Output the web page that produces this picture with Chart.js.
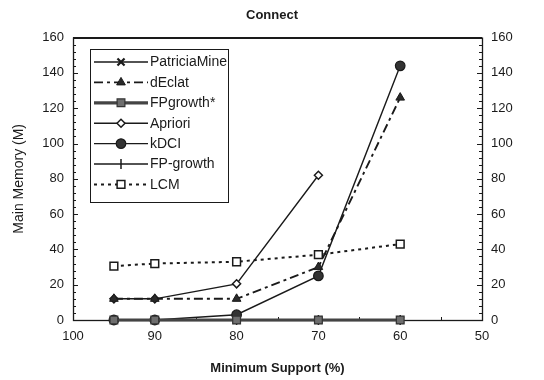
<!DOCTYPE html>
<html>
<head>
<meta charset="utf-8">
<script src="https://cdn.jsdelivr.net/npm/chart.js@4.4.1/dist/chart.umd.min.js"></script>
<style>
  html, body { margin: 0; padding: 0; background: #fff; }
  #wrap { width: 544px; height: 380px; }
</style>
</head>
<body>
<div id="wrap"><canvas id="c" width="544" height="380"></canvas></div>
<script>
// Minimum support levels (%) and memory usage (MB) per algorithm
const supports = [95, 90, 80, 70, 60];
const patriciaMine = [0, 0, 0, 0, 0];
const dEclat = [12, 12, 12, 30, 126];
const fpGrowthStar = [0, 0, 0, 0, 0];
const apriori = [12, 12, 20.5, 82, null];
const kDCI = [0, 0, 3, 25, 144];
const fpGrowth = [0, 0, 0, 0, 0];
const lcm = [30.5, 32, 33, 37, 43];

const xTicks = [100, 90, 80, 70, 60, 50];
const yTicks = [0, 20, 40, 60, 80, 100, 120, 140, 160];

const FONT = "'Liberation Sans', Arial, sans-serif";
const INK = '#1a1a1a';

const pts = arr => supports.map((s, i) => ({ x: s, y: arr[i] }));

const datasets = [
  { label: 'PatriciaMine', data: pts(patriciaMine), borderColor: INK, borderWidth: 1.4,
    pointStyle: 'crossRot', pointRadius: 5, pointBorderWidth: 2.2, pointBackgroundColor: INK, pointBorderColor: INK, order: 5 },
  { label: 'dEclat', data: pts(dEclat), borderColor: INK, borderWidth: 1.9, borderDash: [9, 4, 3, 4],
    pointStyle: 'triangle', pointRadius: 5, pointBorderWidth: 1, pointBackgroundColor: '#2a2a2a', pointBorderColor: INK, order: 3 },
  { label: 'FPgrowth*', data: pts(fpGrowthStar), borderColor: '#444', borderWidth: 3.2,
    pointStyle: 'rect', pointRadius: 5.5, pointBorderWidth: 1.2, pointBackgroundColor: '#6e6e6e', pointBorderColor: '#333', order: 0 },
  { label: 'Apriori', data: pts(apriori), borderColor: INK, borderWidth: 1.4,
    pointStyle: 'rectRot', pointRadius: 4, pointBorderWidth: 1.5, pointBackgroundColor: '#fff', pointBorderColor: INK, order: 4 },
  { label: 'kDCI', data: pts(kDCI), borderColor: INK, borderWidth: 1.4,
    pointStyle: 'circle', pointRadius: 4.8, pointBorderWidth: 1.2, pointBackgroundColor: '#333', pointBorderColor: INK, order: 2 },
  { label: 'FP-growth', data: pts(fpGrowth), borderColor: INK, borderWidth: 1.4,
    pointStyle: 'line', rotation: 90, pointRadius: 5, pointBorderWidth: 1.5, pointBorderColor: INK, order: 6 },
  { label: 'LCM', data: pts(lcm), borderColor: INK, borderWidth: 2, borderDash: [3, 4],
    pointStyle: 'rect', pointRadius: 5.5, pointBorderWidth: 1.5, pointBackgroundColor: '#fff', pointBorderColor: INK, order: 1 }
];
datasets.forEach(d => { d.fill = false; d.tension = 0; d.spanGaps = false; d.clip = false; });

// Frame around the plot area plus inward tick marks on both y axes and the x axis
const framePlugin = {
  id: 'frame',
  beforeDatasetsDraw(chart) {
    const { ctx, chartArea: a, scales } = chart;
    ctx.save();
    ctx.strokeStyle = INK;
    ctx.lineWidth = 1;
    const y = scales.y;
    for (let v = 0; v <= 160; v += 4) {
      const py = Math.round(y.getPixelForValue(v)) + 0.5;
      const len = v % 20 === 0 ? 5 : 3;
      ctx.beginPath();
      ctx.moveTo(a.left, py); ctx.lineTo(a.left + len, py);
      ctx.moveTo(a.right, py); ctx.lineTo(a.right - len, py);
      ctx.stroke();
    }
    const x = scales.x;
    for (let v = 50; v <= 100; v += 5) {
      const px = Math.round(x.getPixelForValue(v)) + 0.5;
      const len = v % 10 === 0 ? 5 : 3;
      ctx.beginPath();
      ctx.moveTo(px, a.bottom); ctx.lineTo(px, a.bottom - len);
      ctx.stroke();
    }
    ctx.lineWidth = 1.3;
    ctx.strokeRect(a.left + 0.5, a.top + 0.5, a.right - a.left, a.bottom - a.top);
    ctx.lineWidth = 2;
    ctx.beginPath(); ctx.moveTo(a.left, a.top + 0.5); ctx.lineTo(a.right, a.top + 0.5); ctx.stroke();
    ctx.restore();
  }
};

// Boxed legend with line samples and markers, drawn from each dataset's style
const legendPlugin = {
  id: 'boxLegend',
  afterDraw(chart) {
    const { ctx } = chart;
    const box = { l: 90, t: 49, w: 138, h: 153 };
    ctx.save();
    ctx.fillStyle = '#fff';
    ctx.fillRect(box.l, box.t, box.w, box.h);
    ctx.strokeStyle = INK;
    ctx.lineWidth = 1;
    ctx.strokeRect(box.l + 0.5, box.t + 0.5, box.w, box.h);
    ctx.font = '14px ' + FONT;
    ctx.textBaseline = 'middle';
    chart.data.datasets.forEach((d, i) => {
      const yy = box.t + 13 + i * 20.4;
      ctx.save();
      ctx.strokeStyle = d.borderColor;
      ctx.lineWidth = d.borderWidth;
      ctx.setLineDash(d.borderDash || []);
      ctx.beginPath(); ctx.moveTo(94, yy); ctx.lineTo(148, yy); ctx.stroke();
      ctx.restore();
      ctx.save();
      ctx.fillStyle = d.pointBackgroundColor || INK;
      ctx.strokeStyle = d.pointBorderColor;
      ctx.lineWidth = d.pointBorderWidth;
      Chart.helpers.drawPoint(ctx, { pointStyle: d.pointStyle, rotation: d.rotation || 0, radius: d.pointRadius, borderWidth: d.pointBorderWidth }, 121, yy);
      ctx.restore();
      ctx.fillStyle = INK;
      ctx.fillText(d.label, 150, yy + 0.5);
    });
    ctx.restore();
  }
};

new Chart(document.getElementById('c'), {
  type: 'line',
  data: { datasets },
  options: {
    responsive: false,
    animation: false,
    devicePixelRatio: 1,
    layout: { padding: { left: 0, right: 0, top: 0, bottom: 0 } },
    plugins: {
      legend: { display: false },
      tooltip: { enabled: false },
      title: {
        display: true, text: 'Connect', color: INK,
        font: { family: FONT, size: 13, weight: 'bold' },
        padding: { top: 8, bottom: 14 }
      }
    },
    scales: {
      x: {
        type: 'linear', reverse: true, min: 50, max: 100,
        afterBuildTicks: s => { s.ticks = xTicks.map(v => ({ value: v })); },
        afterFit: s => { s.height = 60; },
        grid: { display: false, drawTicks: false },
        border: { display: false },
        ticks: { color: INK, font: { family: FONT, size: 13 }, padding: 9, maxRotation: 0 },
        title: { display: true, text: 'Minimum Support (%)', color: INK,
          font: { family: FONT, size: 13, weight: 'bold' }, padding: { top: 8 } }
      },
      y: {
        position: 'left', min: 0, max: 160,
        afterBuildTicks: s => { s.ticks = yTicks.map(v => ({ value: v })); },
        afterFit: s => { s.width = 73; },
        grid: { display: false, drawTicks: false },
        border: { display: false },
        ticks: { color: INK, font: { family: FONT, size: 13 }, padding: 9 },
        title: { display: true, text: 'Main Memory (M)', color: INK,
          font: { family: FONT, size: 14 }, padding: { top: 11, bottom: 0 } }
      },
      y2: {
        position: 'right', min: 0, max: 160,
        afterBuildTicks: s => { s.ticks = yTicks.map(v => ({ value: v })); },
        afterFit: s => { s.width = 62; },
        grid: { display: false, drawTicks: false },
        border: { display: false },
        ticks: { color: INK, font: { family: FONT, size: 13 }, padding: 9 }
      }
    }
  },
  plugins: [framePlugin, legendPlugin]
});
</script>
</body>
</html>
